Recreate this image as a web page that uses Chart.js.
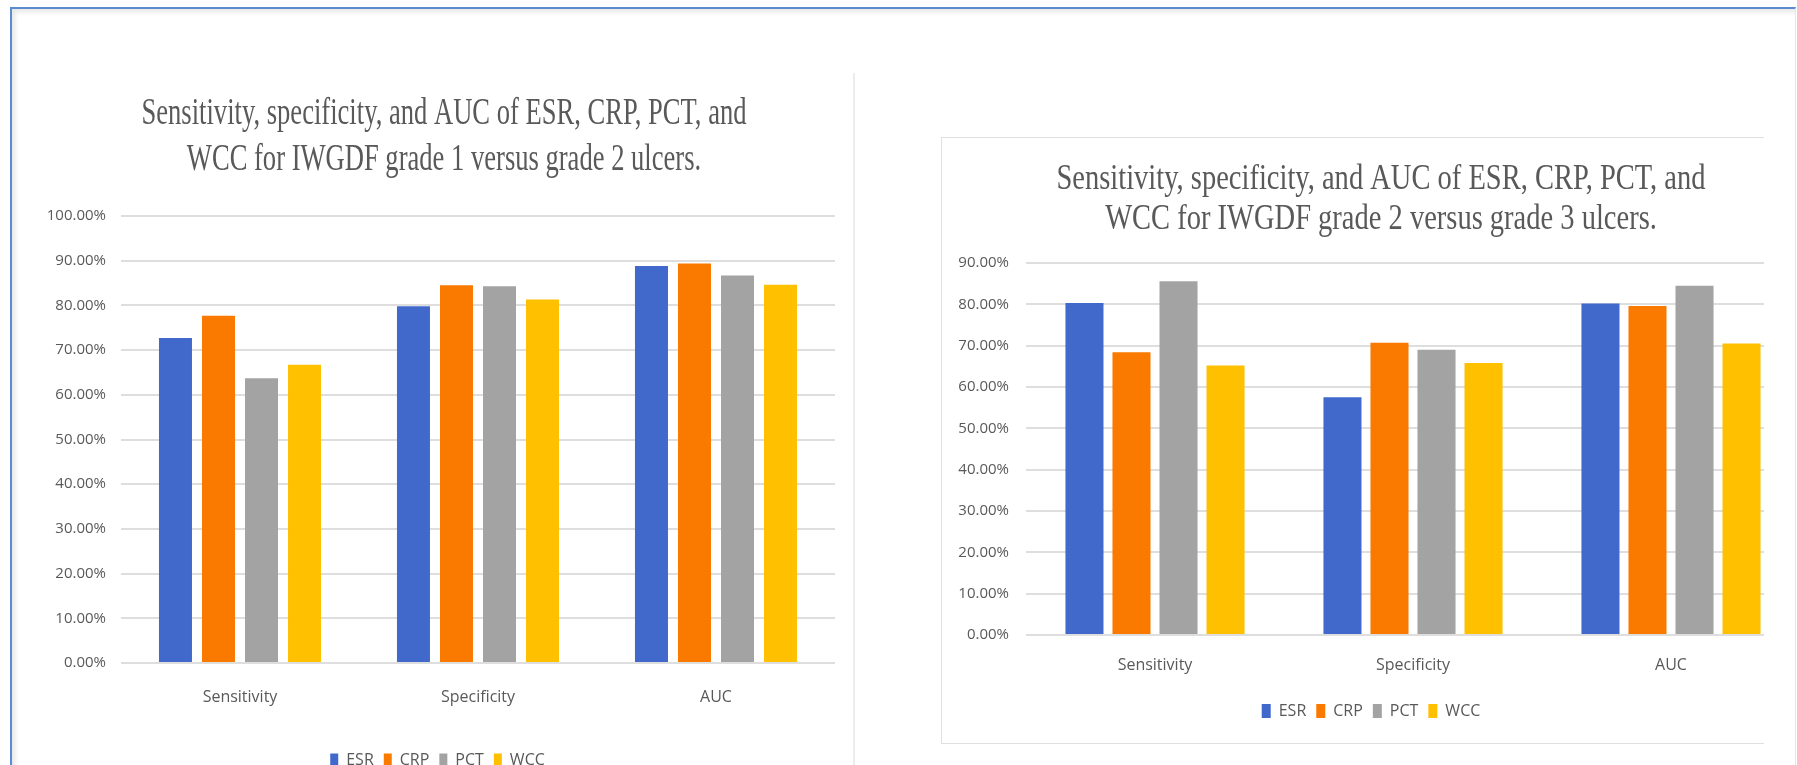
<!DOCTYPE html>
<html>
<head>
<meta charset="utf-8">
<script src="https://cdn.jsdelivr.net/npm/chart.js@4.4.1/dist/chart.umd.min.js"></script>
<style>
  html, body { margin: 0; padding: 0; background: #ffffff; width: 1797px; height: 765px; overflow: hidden; }
  #frame { position: absolute; left: 10px; top: 7px; width: 1783px; height: 800px;
           border-top: 2px solid #5b8bd3; border-left: 2px solid #5b8bd3; border-right: 1px solid #e6e6e6;
           box-shadow: inset 3px 3px 5px rgba(0,0,0,0.10); }
  #divider { position: absolute; left: 853px; top: 73px; width: 2px; height: 700px; background: #ececec; }
  #leftWrap { position: absolute; left: 40px; top: 60px; width: 812px; height: 718px; }
  #rightBox { position: absolute; left: 941px; top: 137px; width: 822px; height: 605px;
              border-top: 1px solid #e0e0e0; border-left: 1px solid #e0e0e0; border-bottom: 1px solid #e0e0e0;
              overflow: hidden; background: #fff; }
  #rightWrap { position: absolute; left: 0; top: 0; width: 887px; height: 605px; }
</style>
</head>
<body>
<div id="frame"></div>
<div id="divider"></div>
<div id="leftWrap"><canvas id="leftChart" width="812" height="718"></canvas></div>
<div id="rightBox"><div id="rightWrap"><canvas id="rightChart" width="887" height="605"></canvas></div></div>
<script>
// ---------------- data ----------------
const categories = ['Sensitivity', 'Specificity', 'AUC'];
const seriesNames = ['ESR', 'CRP', 'PCT', 'WCC'];
const seriesColors = ['#4169cc', '#fa7a00', '#a3a3a3', '#ffc000'];

// IWGDF grade 1 versus grade 2 (percent)
const g12_ESR = [72.7, 79.8, 88.8];
const g12_CRP = [77.7, 84.5, 89.4];
const g12_PCT = [63.7, 84.3, 86.7];
const g12_WCC = [66.7, 81.3, 84.6];

// IWGDF grade 2 versus grade 3 (percent)
const g23_ESR = [80.3, 57.5, 80.2];
const g23_CRP = [68.4, 70.7, 79.6];
const g23_PCT = [85.6, 69.0, 84.5];
const g23_WCC = [65.2, 65.8, 70.5];

const leftTitle = ['Sensitivity, specificity, and AUC of ESR, CRP, PCT, and',
                   'WCC for IWGDF grade 1 versus grade 2 ulcers.'];
const rightTitle = ['Sensitivity, specificity, and AUC of ESR, CRP, PCT, and',
                    'WCC for IWGDF grade 2 versus grade 3 ulcers.'];
const leftAxisMax = 100;
const rightAxisMax = 90;
const axisStep = 10;

// ---------------- styling ----------------
const TEXT = '#595959';
const GRID = '#dedede';
const SANS = '"Open Sans", "Liberation Sans", sans-serif';
const SERIF = '"Liberation Serif", "Times New Roman", serif';

Chart.defaults.font.family = SANS;
Chart.defaults.color = TEXT;

// Title drawn horizontally condensed (as in the source image)
const condensedTitle = {
  id: 'condensedTitle',
  afterDraw(chart, args, opts) {
    const ctx = chart.ctx;
    ctx.save();
    ctx.font = opts.size + 'px ' + SERIF;
    ctx.fillStyle = opts.color;
    ctx.textAlign = 'center';
    ctx.textBaseline = 'middle';
    const w0 = ctx.measureText(opts.lines[0]).width;
    const sx = opts.width / w0;
    opts.lines.forEach((line, i) => {
      ctx.save();
      ctx.translate(opts.centerX, opts.top + i * opts.lineGap);
      ctx.scale(sx, 1);
      ctx.fillText(line, 0, 0);
      ctx.restore();
    });
    ctx.restore();
  }
};

function makeDatasets(arrs, catPct, barPct) {
  return seriesNames.map((name, i) => ({
    label: name,
    data: arrs[i],
    backgroundColor: seriesColors[i],
    borderWidth: 0,
    categoryPercentage: catPct,
    barPercentage: barPct
  }));
}

function makeChart(id, arrs, cfg) {
  return new Chart(document.getElementById(id), {
    type: 'bar',
    data: { labels: categories, datasets: makeDatasets(arrs, cfg.catPct, cfg.barPct) },
    plugins: [condensedTitle],
    options: {
      responsive: false,
      animation: false,
      devicePixelRatio: 1,
      layout: { padding: cfg.padding },
      plugins: {
        title: { display: false },
        tooltip: { enabled: false },
        legend: {
          position: 'bottom',
          labels: {
            boxWidth: cfg.boxW, boxHeight: cfg.boxH, padding: 10,
            font: { size: cfg.legendFont, family: SANS }, color: TEXT
          }
        },
        condensedTitle: cfg.title
      },
      scales: {
        x: {
          grid: { display: false },
          border: { display: false },
          ticks: { font: { size: cfg.catFont }, color: TEXT, padding: cfg.xPad },
          afterFit(scale) { scale.height = cfg.xHeight; }
        },
        y: {
          min: 0, max: cfg.max,
          grid: { color: GRID, lineWidth: 2, drawTicks: false },
          border: { display: false },
          ticks: {
            stepSize: axisStep, padding: cfg.yPad, color: TEXT,
            font: { size: cfg.tickFont },
            callback: v => v.toFixed(2) + '%'
          },
          afterFit(scale) { scale.width = cfg.yWidth; }
        }
      }
    }
  });
}

makeChart('leftChart', [g12_ESR, g12_CRP, g12_PCT, g12_WCC], {
  catPct: 0.723, barPct: 0.767, max: leftAxisMax,
  padding: { top: 156, right: 17, bottom: 0, left: 0 },
  yWidth: 81, yPad: 15, xHeight: 79, xPad: 17,
  tickFont: 15, catFont: 16, legendFont: 16, boxW: 8, boxH: 13,
  title: { lines: leftTitle, size: 38, color: TEXT, centerX: 404, top: 54, lineGap: 46, width: 605 }
});

makeChart('rightChart', [g23_ESR, g23_CRP, g23_PCT, g23_WCC], {
  catPct: 0.729, barPct: 0.809, max: rightAxisMax,
  padding: { top: 125, right: 29, bottom: 14, left: 0 },
  yWidth: 84, yPad: 17, xHeight: 58, xPad: 13,
  tickFont: 15, catFont: 16, legendFont: 16, boxW: 9, boxH: 14,
  title: { lines: rightTitle, size: 35, color: TEXT, centerX: 439, top: 42, lineGap: 40, width: 649 }
});
</script>
</body>
</html>
